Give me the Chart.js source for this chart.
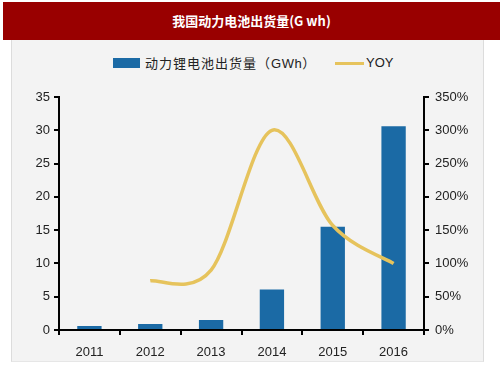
<!DOCTYPE html>
<html><head><meta charset="utf-8">
<script src="https://cdn.jsdelivr.net/npm/chart.js@4/dist/chart.umd.min.js"></script>
<style>
html,body{margin:0;padding:0;background:#fff;width:503px;height:378px;overflow:hidden;}
#title{position:absolute;left:3px;top:2px;width:497px;height:38px;background:#990000;color:#fff;
 font:bold 13px "Noto Sans CJK SC","Liberation Sans",sans-serif;line-height:38px;text-align:center;}
#panel{position:absolute;left:11px;top:40px;width:471px;height:321px;background:#f3f3f3;border-left:1px solid #dcdcdc;border-right:1px solid #dcdcdc;border-bottom:1px solid #e6e6e6;}
#legend{position:absolute;top:54px;left:0;width:503px;height:18px;font:13px "Noto Sans CJK SC",sans-serif;color:#222;}
.lg{position:absolute;top:0;line-height:18px;white-space:nowrap;}
#c{position:absolute;left:0;top:0;}
</style></head><body>
<div id="title">我国动力电池出货量(G wh)</div>
<div id="panel"></div>
<div id="legend">
 <span style="position:absolute;left:113px;top:4px;width:27px;height:10px;background:#1b6aa5;"></span>
 <span class="lg" id="lt1" style="left:145px;letter-spacing:1px;">动力锂电池出货量（<span style="font-family:'Liberation Sans';letter-spacing:0.5px">GWh</span>）</span>
 <span style="position:absolute;left:335px;top:8px;width:29px;height:3px;background:#e6c35c;"></span>
 <span class="lg" style="left:366px;font-family:'Liberation Sans';">YOY</span>
</div>
<canvas id="c" width="503" height="378"></canvas>
<script>
const categories = ["2011","2012","2013","2014","2015","2016"];
const shipments = [0.6, 0.9, 1.5, 6.1, 15.5, 30.6];
const yoy = [null, 74, 90, 300, 157, 100];
const leftTicks = [0,5,10,15,20,25,30,35];
const rightTicks = [0,50,100,150,200,250,300,350];

// Excel-like smoothing: Catmull-Rom control points (1/6 of neighbour span) on the library's own points
const excelSmooth = {
  id:'excelSmooth',
  beforeDatasetsDraw(chart){
    chart.data.datasets.forEach((ds, di) => {
      if (ds.type !== 'line') return;
      const meta = chart.getDatasetMeta(di);
      const pts = meta.data.filter(p => !p.skip);
      const n = pts.length;
      for (let i = 0; i < n; i++) {
        const p = pts[i];
        const a = pts[Math.max(0, i-1)];
        const b = pts[Math.min(n-1, i+1)];
        const dx = (b.x - a.x)/6, dy = (b.y - a.y)/6;
        p.cp1x = p.x - dx; p.cp1y = p.y - dy;
        p.cp2x = p.x + dx; p.cp2y = p.y + dy;
      }
      meta.dataset._pointsUpdated = true;
    });
  }
};

const tickFont = {family:"Liberation Sans", size:13};
new Chart(document.getElementById('c'), {
  data: {
    labels: categories,
    datasets: [
      {type:'line', label:'YOY', data: yoy, yAxisID:'y2', borderColor:'#e6c35c', borderWidth:3.5,
       pointRadius:0, tension:0.4, fill:false, order:0, spanGaps:false},
      {type:'bar', label:'动力锂电池出货量（GWh）', data: shipments, yAxisID:'y', backgroundColor:'#1b6aa5',
       categoryPercentage:1, barPercentage:0.4, order:1}
    ]
  },
  plugins:[excelSmooth],
  options: {
    responsive:false, animation:false, devicePixelRatio:1,
    layout:{padding:{top:97, left:0, right:0, bottom:0}},
    plugins:{legend:{display:false}, tooltip:{enabled:false}, title:{display:false}},
    scales:{
      x:{offset:true, grid:{offset:true, drawOnChartArea:false, color:'#000', lineWidth:2, tickLength:5},
         border:{display:true, color:'#000', width:2},
         ticks:{font:tickFont, color:'#222', padding:10},
         afterFit(s){s.height=48;}},
      y:{position:'left', min:0, max:35, 
         afterBuildTicks(s){s.ticks = leftTicks.map(v=>({value:v}));},
         grid:{drawOnChartArea:false, color:'#000', lineWidth:2, tickLength:5},
         border:{display:true, color:'#000', width:2},
         ticks:{font:tickFont, color:'#222', padding:4},
         afterFit(s){s.width=59;}},
      y2:{position:'right', min:0, max:350,
         afterBuildTicks(s){s.ticks = rightTicks.map(v=>({value:v}));},
         grid:{drawOnChartArea:false, color:'#000', lineWidth:2, tickLength:5},
         border:{display:true, color:'#000', width:2},
         ticks:{font:tickFont, color:'#222', padding:6, callback:v=>v+'%'},
         afterFit(s){s.width=79;}}
    }
  }
});
</script>
</body></html>
